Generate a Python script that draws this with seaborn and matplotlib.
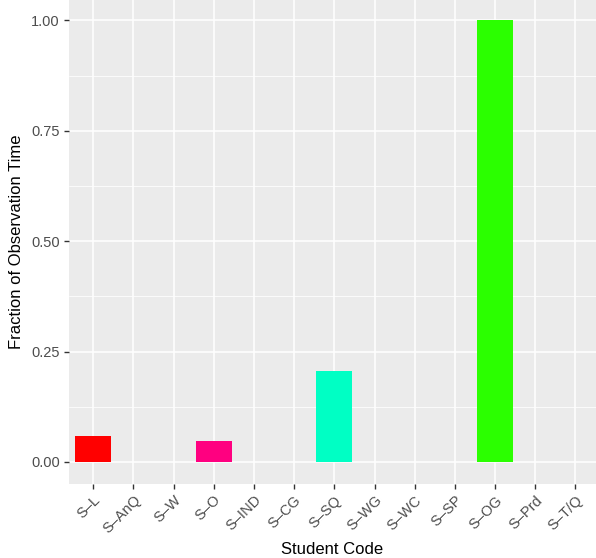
import pandas as pd
import matplotlib
matplotlib.use('Agg')
import matplotlib.pyplot as plt
import seaborn as sns
import numpy as np

# Categories and values
codes = ['S\u2013L', 'S\u2013AnQ', 'S\u2013W', 'S\u2013O', 'S\u2013IND', 'S\u2013CG', 'S\u2013SQ',
         'S\u2013WG', 'S\u2013WC', 'S\u2013SP', 'S\u2013OG', 'S\u2013Prd', 'S\u2013T/Q']
fractions = [0.058, 0.0, 0.0, 0.047, 0.0, 0.0, 0.205, 0.0, 0.0, 0.0, 1.0, 0.0, 0.0]
bar_colors = ['#FF0000', '#808080', '#808080', '#FF0080', '#808080', '#808080', '#00FFC4',
              '#808080', '#808080', '#808080', '#2BFF00', '#808080', '#808080']
y_ticks = [0.0, 0.25, 0.5, 0.75, 1.0]
y_tick_labels = ['0.00', '0.25', '0.50', '0.75', '1.00']

df = pd.DataFrame({'code': codes, 'fraction': fractions})

# ggplot2-like grey theme
sns.set_theme(style='darkgrid', rc={
    'axes.facecolor': '#EBEBEB',
    'grid.color': 'white',
    'axes.edgecolor': 'none',
})
plt.rcParams['font.family'] = ['Liberation Sans', 'DejaVu Sans']

fig, ax = plt.subplots(figsize=(5.96, 5.58), dpi=100)
fig.subplots_adjust(left=69 / 596, right=1.0, top=1.0, bottom=1 - 484 / 558)

sns.barplot(data=df, x='code', y='fraction', hue='code', palette=bar_colors,
            legend=False, width=0.9, saturation=1, linewidth=0, ax=ax)

ax.set_xlim(-0.6, 12.51)
ax.set_ylim(-0.05, 1.046)

ax.set_yticks(y_ticks)
ax.set_yticklabels(y_tick_labels)
ax.set_yticks([0.125, 0.375, 0.625, 0.875], minor=True)
ax.grid(which='major', color='white', linewidth=1.1)
ax.grid(which='minor', axis='y', color='white', linewidth=0.55)
ax.set_axisbelow(True)

plt.setp(ax.get_xticklabels(), rotation=45, ha='right', rotation_mode='anchor')
ax.tick_params(axis='both', which='major', length=3.5, width=1.0, color='#333333',
               labelcolor='#4D4D4D', labelsize=10.5, pad=3, direction='out')
ax.tick_params(axis='both', which='minor', length=0)
ax.xaxis.set_tick_params(bottom=True)
ax.yaxis.set_tick_params(left=True)

ax.set_xlabel('Student Code', fontsize=12, color='black', labelpad=4)
ax.set_ylabel('Fraction of Observation Time', fontsize=12, color='black', labelpad=5)

for s in ax.spines.values():
    s.set_visible(False)

plt.savefig('out.png', dpi=100)
